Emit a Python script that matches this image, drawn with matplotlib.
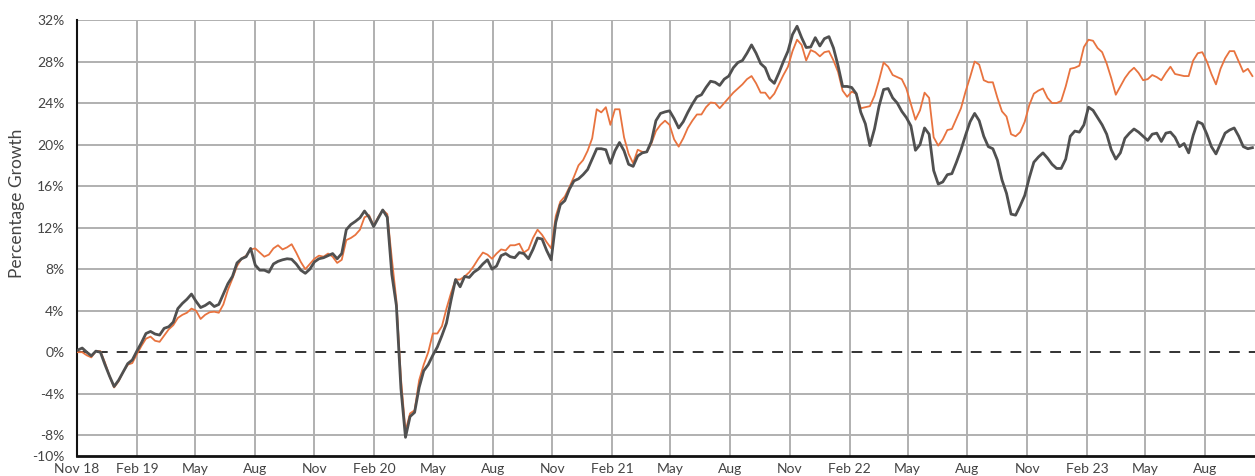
import datetime as dt

import matplotlib
matplotlib.use("Agg")
import matplotlib.pyplot as plt
import pandas as pd

# -----------------------------
# data (weekly, % growth since Nov 2018)
# -----------------------------

start_date = "2018-11-02"

dark_series = [
    0.2, 0.4, 0.0, -0.35, 0.1, 0.0, -1.2, -2.3, -3.3, -2.7,
    -1.9, -1.1, -0.75, 0.1, 0.9, 1.8, 2.0, 1.75, 1.65, 2.3,
    2.45, 2.9, 4.2, 4.7, 5.1, 5.6, 4.9, 4.3, 4.5, 4.8,
    4.4, 4.6, 5.6, 6.6, 7.3, 8.6, 9.0, 9.2, 10.0, 8.4,
    7.9, 7.9, 7.7, 8.5, 8.75, 8.9, 9.0, 8.95, 8.5, 7.9,
    7.6, 8.0, 8.7, 9.0, 9.1, 9.3, 9.5, 9.0, 9.5, 11.8,
    12.3, 12.6, 12.95, 13.6, 13.0, 12.1, 12.9, 13.7, 13.0, 7.5,
    4.5, -3.5, -8.2, -6.2, -5.8, -3.4, -1.8, -1.2, -0.3, 0.5,
    1.6, 2.8, 5.0, 7.0, 6.3, 7.3, 7.2, 7.7, 8.0, 8.5,
    8.9, 8.0, 8.3, 9.3, 9.5, 9.2, 9.1, 9.6, 9.5, 9.0,
    9.9, 11.0, 10.9, 9.8, 8.9, 12.5, 14.2, 14.6, 15.7, 16.5,
    16.7, 17.1, 17.6, 18.6, 19.6, 19.6, 19.5, 18.2, 19.4, 20.2,
    19.4, 18.1, 17.9, 18.9, 19.2, 19.3, 20.3, 22.3, 23.0, 23.15,
    23.25, 22.5, 21.6, 22.2, 23.1, 23.9, 24.6, 24.8, 25.5, 26.1,
    26.0, 25.7, 26.3, 26.6, 27.4, 27.9, 28.1, 28.8, 29.6, 28.8,
    27.8, 27.4, 26.3, 25.9, 26.9, 28.0, 29.0, 30.6, 31.4, 30.3,
    29.35, 29.4, 30.3, 29.5, 30.2, 30.4, 29.3, 27.6, 25.6, 25.6,
    25.5, 24.9, 23.1, 22.0, 19.9, 21.5, 23.7, 25.3, 25.4, 24.5,
    24.0, 23.2, 22.6, 21.8, 19.45, 20.0, 21.6, 21.0, 17.5, 16.2,
    16.4, 17.1, 17.2, 18.3, 19.5, 20.9, 22.2, 23.0, 22.3, 20.8,
    19.8, 19.6, 18.5, 16.6, 15.3, 13.3, 13.2, 14.1, 15.1, 16.8,
    18.3, 18.8, 19.2, 18.7, 18.1, 17.7, 17.7, 18.6, 20.8, 21.3,
    21.2, 21.9, 23.6, 23.3, 22.6, 21.9, 21.0, 19.5, 18.6, 19.2,
    20.6, 21.1, 21.5, 21.2, 20.8, 20.4, 21.0, 21.1, 20.3, 21.1,
    21.2, 20.7, 19.8, 20.1, 19.2, 20.9, 22.2, 22.0, 21.0, 19.8,
    19.1, 20.1, 21.1, 21.4, 21.6, 20.8, 19.8, 19.6, 19.7,
]

orange_series = [
    0.0, 0.0, -0.3, -0.5, 0.1, 0.1, -1.0, -2.3, -3.4, -2.8,
    -1.9, -1.2, -1.05, -0.2, 0.6, 1.3, 1.5, 1.1, 1.0, 1.6,
    2.2, 2.6, 3.3, 3.6, 3.8, 4.2, 4.0, 3.2, 3.6, 3.85,
    3.9, 3.8, 4.6, 6.0, 7.1, 8.3, 9.0, 9.3, 9.9, 10.0,
    9.6, 9.2, 9.4, 10.0, 10.3, 9.9, 10.1, 10.4, 9.6, 8.7,
    8.0, 8.5, 9.0, 9.3, 9.2, 9.5, 9.2, 8.6, 8.9, 10.8,
    11.0, 11.3, 11.8, 13.0, 13.2, 12.2, 13.0, 13.7, 13.3, 9.0,
    5.0, -2.5, -7.6, -5.9, -5.6, -2.7, -1.2, 0.0, 1.8, 1.8,
    2.5, 4.2, 5.7, 7.0, 7.0, 7.3, 7.7, 8.3, 9.0, 9.6,
    9.4, 9.0, 9.5, 9.9, 9.8, 10.3, 10.3, 10.45, 9.6, 9.9,
    11.0, 11.8, 11.3, 10.6, 10.0, 13.1, 14.5, 15.0, 15.9, 16.9,
    18.0, 18.5, 19.4, 20.6, 23.4, 23.1, 23.6, 21.9, 23.4, 23.4,
    20.7, 19.1, 18.2, 19.5, 19.3, 19.3, 20.1, 21.3, 21.9, 22.3,
    21.9, 20.5, 19.8, 20.6, 21.6, 22.3, 22.9, 22.9, 23.6, 24.05,
    24.0, 23.5, 24.0, 24.5, 25.0, 25.4, 25.8, 26.3, 26.6, 25.9,
    25.0, 25.0, 24.4, 24.9, 25.8, 26.7, 27.5, 29.0, 30.1, 29.6,
    28.1, 29.1, 28.9, 28.5, 28.9, 29.0, 28.1, 27.0, 25.2, 24.6,
    25.1, 24.9, 23.5, 23.6, 23.7, 24.7, 26.2, 27.9, 27.5, 26.7,
    26.5, 26.3, 25.4, 23.9, 22.4, 23.3, 25.0, 24.5, 20.7, 19.9,
    20.5, 21.4, 21.5, 22.5, 23.5, 25.1, 26.5, 28.0, 27.7, 26.2,
    26.0, 26.0, 24.5, 23.2, 22.7, 21.0, 20.8, 21.2, 22.2, 23.8,
    24.9, 25.2, 25.4, 24.5, 24.0, 24.0, 24.2, 25.6, 27.3, 27.4,
    27.6, 29.4, 30.1, 30.0, 29.3, 28.9, 27.8, 26.4, 24.8, 25.6,
    26.4, 27.0, 27.4, 26.9, 26.2, 26.3, 26.7, 26.5, 26.2, 26.9,
    27.5, 26.8, 26.7, 26.6, 26.6, 28.1, 28.8, 28.9, 28.0, 26.8,
    25.8, 27.3, 28.3, 29.0, 29.0, 28.0, 27.0, 27.3, 26.6,
]

dates = pd.date_range(start_date, periods=len(dark_series), freq="7D")

tick_dates = pd.date_range("2018-11-01", "2023-08-01", freq="3MS")
tick_labels = ["Nov 18", "Feb 19", "May", "Aug", "Nov", "Feb 20", "May", "Aug", "Nov",
               "Feb 21", "May", "Aug", "Nov", "Feb 22", "May", "Aug", "Nov",
               "Feb 23", "May", "Aug"]

y_ticks = [-10, -8, -4, 0, 4, 8, 12, 16, 20, 24, 28, 32]

# -----------------------------
# plot
# -----------------------------

plt.rcParams["font.family"] = ["Lato", "DejaVu Sans"]

fig = plt.figure(figsize=(12.55, 4.76), dpi=100)
ax = fig.add_axes([77 / 1255, 20 / 476, 1 - 77 / 1255, 436 / 476])

grid_col = "#b0b0b0"
for t in tick_dates[1:]:
    ax.axvline(t, color=grid_col, lw=1.4, zorder=1)
for v in y_ticks:
    if v not in (0, -10):
        ax.axhline(v, color=grid_col, lw=1.4, zorder=1)
ax.axhline(0, color="#222222", lw=1.3, ls=(0, (6, 5)), zorder=2)

ax.plot(dates, orange_series, color="#e8733f", lw=1.3, zorder=3)
ax.plot(dates, dark_series, color="#505050", lw=2.0, zorder=4)

ax.set_xlim(dt.datetime(2018, 11, 1), dt.datetime(2023, 10, 17))
ax.set_ylim(-10, 32)

ax.set_xticks(tick_dates)
ax.set_xticklabels(tick_labels)
ax.set_yticks(y_ticks)
ax.set_yticklabels([f"{v}%" for v in y_ticks])
ax.tick_params(axis="both", length=0, labelsize=10, colors="#444444")
ax.tick_params(axis="x", pad=5)
ax.tick_params(axis="y", pad=9)

for s in ("top", "right"):
    ax.spines[s].set_visible(False)
ax.spines["left"].set_linewidth(1.5)
ax.spines["bottom"].set_linewidth(2.0)
ax.spines["left"].set_color("#111111")
ax.spines["bottom"].set_color("#111111")

# y label sits a bit above the axes centre in the reference
fig.text(17 / 1255, 1 - 203 / 476, "Percentage Growth", rotation=90,
         ha="center", va="center", fontsize=12.5, color="#444444")

fig.savefig("out.png", dpi=100)
